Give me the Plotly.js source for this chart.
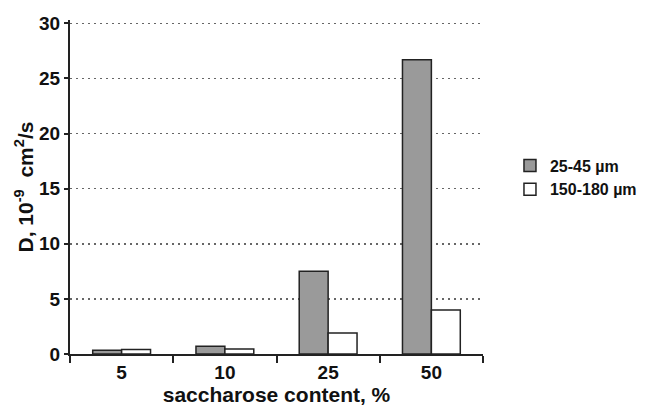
<!DOCTYPE html>
<html><head><meta charset="utf-8">
<script src="https://cdn.plot.ly/plotly-3.0.1.min.js"></script>
<style>body{margin:0;background:#fff}#chart{width:648px;height:408px}</style>
</head><body><div id="chart"></div>
<script>
var categories = ["5", "10", "25", "50"];
var seriesNames = ["25-45 µm", "150-180 µm"];
var fine = [0.35, 0.7, 7.5, 26.7];
var coarse = [0.4, 0.45, 1.9, 4.0];
var yTicks = [0, 5, 10, 15, 20, 25, 30];

var fam = "Liberation Sans";
var traces = [
  {type: "bar", name: seriesNames[0], x: categories, y: fine,
   marker: {color: "#9a9a9a", line: {color: "#222", width: 1.5}}},
  {type: "bar", name: seriesNames[1], x: categories, y: coarse,
   marker: {color: "#ffffff", line: {color: "#222", width: 1.5}}}
];
var layout = {
  width: 648, height: 408,
  margin: {l: 70, r: 165, t: 20, b: 54, autoexpand: false},
  paper_bgcolor: "#fff", plot_bgcolor: "#fff",
  barmode: "group", bargap: 0.44, bargroupgap: 0,
  font: {family: fam, size: 18, color: "#111", weight: "bold"},
  showlegend: true,
  legend: {xref: "container", yref: "container", x: 0.787, y: 0.565, xanchor: "left", yanchor: "middle",
           font: {family: fam, size: 16, color: "#111", weight: "bold"},
           itemwidth: 30, tracegroupgap: 0},
  xaxis: {type: "category", showline: true, linecolor: "#222", linewidth: 2,
          ticks: "outside", tickson: "boundaries", ticklen: 7, tickwidth: 2, tickcolor: "#222",
          tickfont: {family: fam, size: 19, weight: "bold", color: "#111"},
          title: {text: "saccharose content, %", standoff: 5,
                  font: {family: fam, size: 21, weight: "bold", color: "#111"}},
          showgrid: false, fixedrange: true},
  yaxis: {range: [0, 30.3], tickvals: yTicks, showline: true, linecolor: "#222", linewidth: 2,
          ticks: "outside", ticklen: 4, tickwidth: 2, tickcolor: "#222",
          tickfont: {family: fam, size: 19, weight: "bold", color: "#111"},
          showgrid: true, gridcolor: "#666", gridwidth: 1.5, griddash: "2px,4px",
          zeroline: false,
          title: {text: "D, 10<sup>-9</sup>  cm<sup>2</sup>/s", standoff: 0,
                  font: {family: fam, size: 21, weight: "bold", color: "#111"}}}
};
Plotly.newPlot("chart", traces, layout, {displayModeBar: false, staticPlot: true});
</script></body></html>
